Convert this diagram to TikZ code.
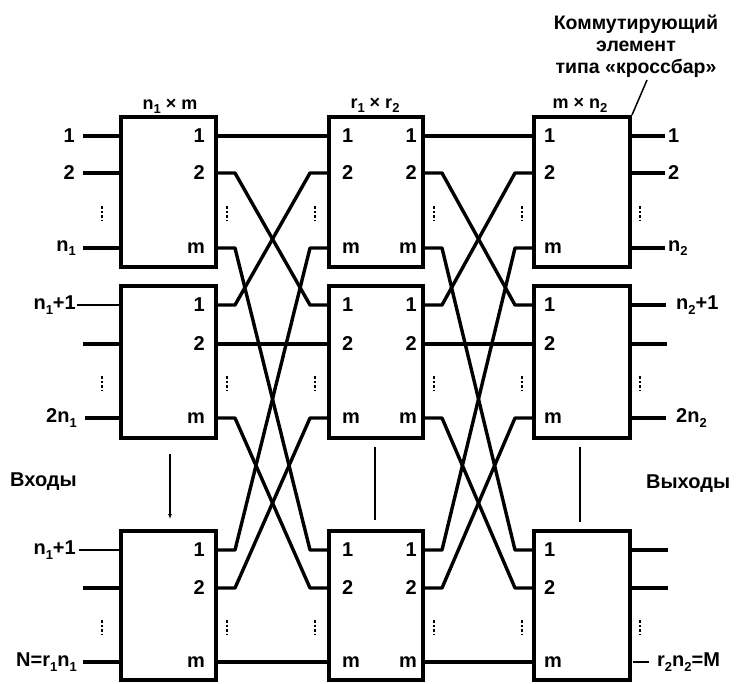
\documentclass[tikz,border=0pt]{standalone}
\usepackage{fontspec}
\setmainfont{Liberation Sans}
\usetikzlibrary{calc,arrows.meta}
\newcommand\lo[1]{\raisebox{-0.45ex}{\fontsize{13}{13}\selectfont #1}}
\begin{document}
\begin{tikzpicture}[x=1pt,y=-1pt,
  box/.style={draw, line width=4pt, inner sep=0pt},
  wire/.style={line width=3.4pt, line join=round},
  thinw/.style={line width=1.4pt},
  lbl/.style={inner sep=0pt, font=\fontsize{20}{22}\bfseries\selectfont},
  hdr/.style={inner sep=0pt, font=\fontsize{18}{20}\bfseries\selectfont},
  vdot/.style={line width=2pt, dash pattern=on 2.5pt off 2pt},
  vlink/.style={line width=1.5pt}]
\useasboundingbox (0,0) rectangle (741,683);

% boxes and their port coordinates
\foreach \cc/\xl/\xr in {A/121/216,B/329/423,C/534/630}{
  \foreach \rr/\yt/\yb/\pa/\pb/\pc in {1/117/267/136/173/248,2/286/438/305/344/418,3/531/680/550/588/662}{
    \node[box, minimum width={(\xr-\xl)*1pt}, minimum height={(\yb-\yt)*1pt}]
      (\cc\rr) at ({(\xl+\xr)/2},{(\yt+\yb)/2}) {};
    \coordinate (\cc\rr i1) at (\xl,\pa);
    \coordinate (\cc\rr i2) at (\xl,\pb);
    \coordinate (\cc\rr im) at (\xl,\pc);
    \coordinate (\cc\rr o1) at (\xr,\pa);
    \coordinate (\cc\rr o2) at (\xr,\pb);
    \coordinate (\cc\rr om) at (\xr,\pc);
  }
}

% inter-stage wires
\foreach \sa/\ta in {A1o1/B1i1,A1o2/B2i1,A1om/B3i1,A2o1/B1i2,A2o2/B2i2,A2om/B3i2,A3o1/B1im,A3o2/B2im,A3om/B3im,
                     B1o1/C1i1,B1o2/C2i1,B1om/C3i1,B2o1/C1i2,B2o2/C2i2,B2om/C3i2,B3o1/C1im,B3o2/C2im,B3om/C3im}{
  \draw[wire] (\sa) -- ++(19,0) -- ([xshift=-19pt]\ta) -- (\ta);
}

% port labels inside boxes
\foreach \rr in {1,2,3}{
  \foreach \pp/\tx in {1/1,2/2,m/m}{
    \node[lbl, anchor=east] (la\rr\pp) at ([xshift=-11pt]A\rr o\pp) {\tx};
    \node[lbl, anchor=west] (lbi\rr\pp) at ([xshift=13pt]B\rr i\pp) {\tx};
    \node[lbl, anchor=east] (lbo\rr\pp) at ([xshift=-6pt]B\rr o\pp) {\tx};
    \node[lbl, anchor=west] (lc\rr\pp) at ([xshift=10pt]C\rr i\pp) {\tx};
  }
}

% headers
\node[hdr, anchor=south] (h1) at (170,114) {n\lo{1} × m};
\node[hdr, anchor=south] (h2) at (375,113) {r\lo{1} × r\lo{2}};
\node[hdr, anchor=south] (h3) at (580,113) {m × n\lo{2}};

% inputs
\node[lbl, anchor=east] (in1) at (75,136) {1};
\node[lbl, anchor=east] (in2) at (75,173) {2};
\node[lbl, anchor=east] (in3) at (76,248) {n\lo{1}};
\node[lbl, anchor=east] (in4) at (76,305) {n\lo{1}+1};
\coordinate (in5) at (83,344);
\node[lbl, anchor=east] (in6) at (77,418) {2n\lo{1}};
\node[lbl, anchor=east] (in7) at (76,550) {n\lo{1}+1};
\coordinate (in8) at (83,588);
\node[lbl, anchor=east] (in9) at (77,662) {N=r\lo{1}n\lo{1}};
\draw[wire] ([xshift=8pt]in1.east) -- (A1i1);
\draw[wire] ([xshift=8pt]in2.east) -- (A1i2);
\draw[wire] ([xshift=7pt]in3.east) -- (A1im);
\draw[thinw] ([xshift=1pt]in4.east) -- (A2i1);
\draw[wire] (in5) -- (A2i2);
\draw[wire] ([xshift=8pt]in6.east) -- (A2im);
\draw[thinw] ([xshift=3pt]in7.east) -- (A3i1);
\draw[wire] (in8) -- (A3i2);
\draw[wire] ([xshift=6pt]in9.east) -- (A3im);

% outputs
\node[lbl, anchor=west] (out1) at (668,136) {1};
\node[lbl, anchor=west] (out2) at (668,173) {2};
\node[lbl, anchor=west] (out3) at (668,248) {n\lo{2}};
\node[lbl, anchor=west] (out4) at (676,305) {n\lo{2}+1};
\coordinate (out5) at (667,344);
\node[lbl, anchor=west] (out6) at (676,418) {2n\lo{2}};
\coordinate (out7) at (668,550);
\coordinate (out8) at (668,588);
\node[lbl, anchor=west] (out9) at (657,662) {r\lo{2}n\lo{2}=M};
\draw[wire] (C1o1) -- ([xshift=-3pt]out1.west);
\draw[wire] (C1o2) -- ([xshift=-3pt]out2.west);
\draw[wire] (C1om) -- ([xshift=-3pt]out3.west);
\draw[wire] (C2o1) -- ([xshift=-10pt]out4.west);
\draw[wire] (C2o2) -- (out5);
\draw[wire] (C2om) -- ([xshift=-10pt]out6.west);
\draw[wire] (C3o1) -- (out7);
\draw[wire] (C3o2) -- (out8);
\draw[thinw] ([xshift=3pt]C3om) -- ([xshift=-8pt]out9.west);

% continuation marks
\foreach \yy in {213,383,627}{
  \foreach \xx in {102,227,315,434,522,640}{
    \draw[vdot] (\xx,\yy-7) -- (\xx,\yy+7);
  }
}

% vertical links between rows 2 and 3
\draw[vlink, -{Latex[length=5pt,width=4pt]}] (A2.south -| 170,0) ++(0,14) coordinate (va) -- ([yshift=10pt]A3.north -| 170,0);
\draw[line width=2pt] (375,447) coordinate (vb) -- (375,520);
\draw[line width=2pt] (580,447) coordinate (vc) -- (580,522);

% side captions
\node[lbl, anchor=west] (inl) at (10,482) {Входы};
\node[lbl, anchor=west] (outl) at (646,484) {Выходы};

% annotation
\node[lbl, align=center, anchor=south, font=\fontsize{19.5}{22}\bfseries\selectfont] (note) at (636,78)
  {Коммутирующий\\элемент\\типа «кроссбар»};
\draw[line width=1.5pt] (647,80) -- (C1.north east);
\end{tikzpicture}
\end{document}
